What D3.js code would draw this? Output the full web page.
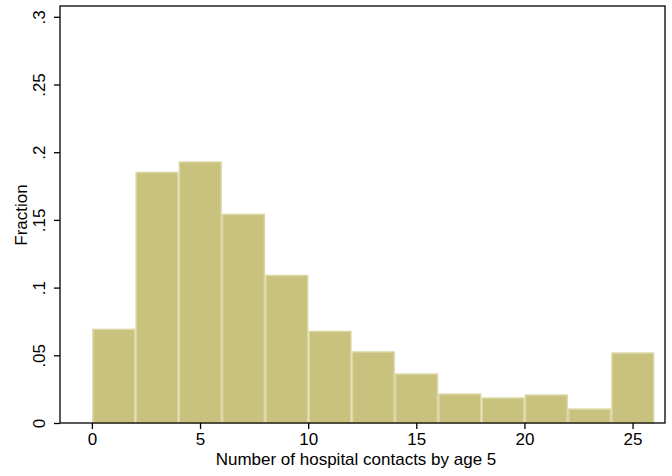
<!DOCTYPE html>
<html><head><meta charset="utf-8">
<script src="https://cdn.jsdelivr.net/npm/d3@7"></script>
<style>body{margin:0;background:#fff}svg{display:block}text{font-family:"Liberation Sans",Arial,sans-serif;fill:#000}</style>
</head><body><svg id="c" width="672" height="476"></svg>
<script>
const binStarts = [0,2,4,6,8,10,12,14,16,18,20,22,24];
const binWidth = 2;
const fractions = [0.0697,0.1856,0.1933,0.1546,0.1095,0.0682,0.0530,0.0367,0.0219,0.0190,0.0212,0.0108,0.0522];
const xTicks = [0,5,10,15,20,25];
const yTicks = [0,0.05,0.1,0.15,0.2,0.25,0.3];
const yTickLabels = ["0",".05",".1",".15",".2",".25",".3"];
const xTitle = "Number of hospital contacts by age 5";
const yTitle = "Fraction";

const svg = d3.select("#c");
const L=60, R=665, T=6, B=423;
const x = d3.scaleLinear().domain([-1.475,26.5]).range([L,R]);
const y = d3.scaleLinear().domain([0,0.3]).range([B,16.8]);

svg.append("g").selectAll("rect").data(binStarts).join("rect")
  .attr("x",(d)=>x(d)+1).attr("width",(d)=>x(d+binWidth)-x(d)-1.5)
  .attr("y",(d,i)=>y(fractions[i])+0.75).attr("height",(d,i)=>B-y(fractions[i])-0.75)
  .attr("fill","#c9c27f").attr("stroke","#dbd7a5").attr("stroke-width",1.5);

svg.append("rect").attr("x",L).attr("y",T).attr("width",R-L).attr("height",B-T)
  .attr("fill","none").attr("stroke","#000").attr("stroke-width",1.3);

const xa = svg.append("g").attr("transform",`translate(0,${B})`)
  .call(d3.axisBottom(x).tickValues(xTicks).tickSize(6).tickPadding(4).tickFormat(d3.format("d")));
xa.select(".domain").remove();
xa.selectAll("text").attr("font-size",17).attr("fill","#000").attr("font-family","Liberation Sans, Arial, sans-serif");
xa.selectAll("line").attr("stroke","#000").attr("stroke-width",1.3);

const ya = svg.append("g").attr("transform",`translate(${L},0)`)
  .call(d3.axisLeft(y).tickValues(yTicks).tickSize(6).tickFormat((d,i)=>yTickLabels[i]));
ya.select(".domain").remove();
ya.selectAll("line").attr("stroke","#000").attr("stroke-width",1.3);
ya.selectAll("text").attr("font-size",17).attr("fill","#000").attr("font-family","Liberation Sans, Arial, sans-serif")
  .attr("x",null).attr("dy",null).attr("text-anchor","middle")
  .attr("transform","translate(-21,0) rotate(-90)").attr("dy","0.36em");

svg.append("text").attr("x",356).attr("y",465).attr("text-anchor","middle").attr("font-size",17).text(xTitle);
svg.append("text").attr("transform","translate(27,215) rotate(-90)").attr("text-anchor","middle").attr("font-size",17).text(yTitle);
</script></body></html>
